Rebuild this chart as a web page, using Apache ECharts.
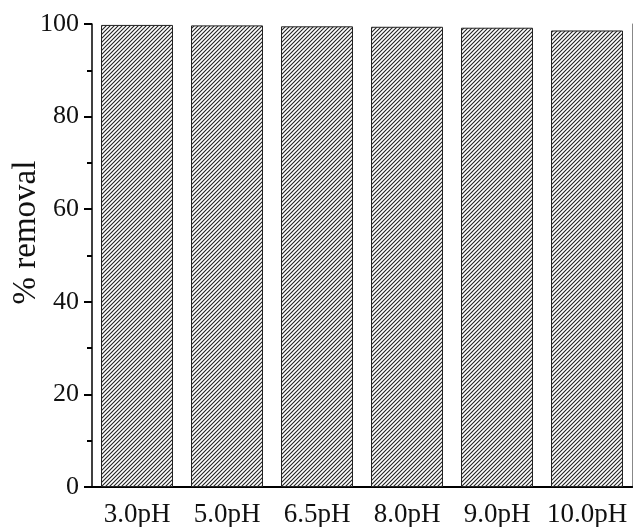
<!DOCTYPE html>
<html>
<head>
<meta charset="utf-8">
<script src="https://cdn.jsdelivr.net/npm/echarts@6/dist/echarts.min.js"></script>
<style>
  html, body { margin: 0; padding: 0; background: #fff; }
  #main { width: 635px; height: 527px; }
</style>
</head>
<body>
<div id="main"></div>
<script>
var categories = ['3.0pH', '5.0pH', '6.5pH', '8.0pH', '9.0pH', '10.0pH'];
var removal = [99.8, 99.7, 99.5, 99.4, 99.2, 98.6];

/* hatch pattern for the bars */
function hatch() {
    var c = document.createElement('canvas');
    c.width = 4;
    c.height = 4;
    var ctx = c.getContext('2d');
    ctx.fillStyle = '#fff';
    ctx.fillRect(0, 0, 4, 4);
    ctx.strokeStyle = '#222';
    ctx.lineWidth = 1.1;
    ctx.beginPath();
    ctx.moveTo(-1, 5); ctx.lineTo(5, -1);
    ctx.moveTo(-1, 1); ctx.lineTo(1, -1);
    ctx.moveTo(3, 5); ctx.lineTo(5, 3);
    ctx.stroke();
    return c;
}

var font = '"Liberation Serif", "Times New Roman", serif';
var chart = echarts.init(document.getElementById('main'));

var option = {
    animation: false,
    grid: { left: 92, top: 24, right: 3, bottom: 40, containLabel: false, outerBoundsMode: 'none' },
    xAxis: [
        {
            type: 'category',
            data: categories,
            axisLine: { lineStyle: { color: '#000', width: 2 } },
            axisTick: { show: false },
            axisLabel: { interval: 0, fontFamily: font, fontSize: 27, color: '#111', margin: 14 }
        },
        {
            type: 'category',
            position: 'top',
            data: categories,
            axisLine: { lineStyle: { color: '#000', width: 2 } },
            axisTick: { show: false },
            axisLabel: { show: false }
        }
    ],
    yAxis: [
        {
            type: 'value',
            min: 0,
            max: 100,
            interval: 20,
            name: '% removal',
            nameLocation: 'middle',
            nameGap: 49,
            nameMoveOverlap: false,
            nameTextStyle: { fontFamily: font, fontSize: 33, color: '#111', padding: [0, 0, 0, 46] },
            axisLine: { show: true, lineStyle: { color: '#000', width: 1.5 } },
            axisTick: { show: true, inside: false, length: 8, lineStyle: { width: 2, color: '#000' } },
            minorTick: { show: true, splitNumber: 2, length: 5, lineStyle: { width: 2, color: '#000' } },
            splitLine: { show: false },
            axisLabel: { fontFamily: font, fontSize: 26, color: '#111', margin: 13 }
        },
        {
            type: 'value',
            position: 'right',
            min: 0,
            max: 100,
            axisLine: { show: true, lineStyle: { color: '#888', width: 1 } },
            axisTick: { show: false },
            axisLabel: { show: false },
            splitLine: { show: false }
        }
    ],
    series: [
        {
            type: 'bar',
            data: removal,
            barCategoryGap: '20%',
            itemStyle: {
                color: { image: hatch(), repeat: 'repeat' },
                borderColor: '#222',
                borderWidth: 1
            }
        }
    ]
};

chart.setOption(option);
</script>
</body>
</html>
